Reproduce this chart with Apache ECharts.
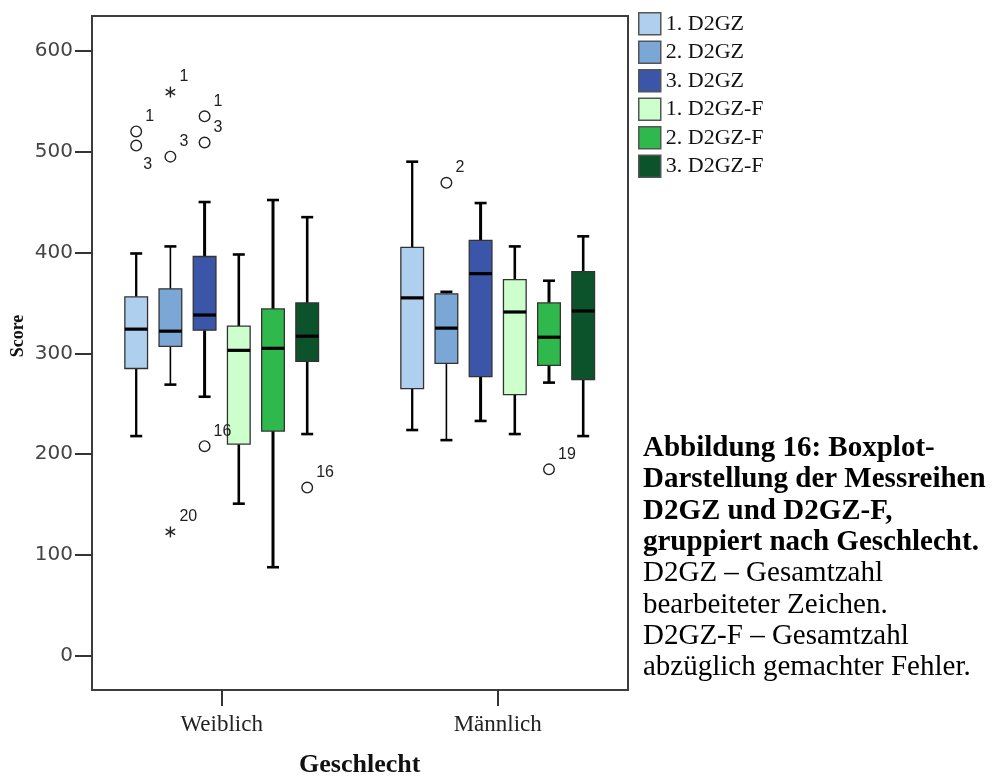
<!DOCTYPE html>
<html><head><meta charset="utf-8">
<script src="https://cdn.jsdelivr.net/npm/echarts@6/dist/echarts.min.js"></script>
<style>html,body{margin:0;padding:0;background:#fff}#c{width:995px;height:778px}</style>
</head><body><div id="c"></div>
<script>
// ---------------- data ----------------
const categories = ['Weiblich', 'Männlich'];
const seriesNames = ['1. D2GZ', '2. D2GZ', '3. D2GZ', '1. D2GZ-F', '2. D2GZ-F', '3. D2GZ-F'];
// [min, Q1, median, Q3, max] for Weiblich, Männlich
const d2gz1  = [[218, 285, 324, 356, 399], [224, 265, 355, 405, 490]];
const d2gz2  = [[269, 307, 322, 364, 406], [214, 290, 325, 359, 361]];
const d2gz3  = [[257, 323, 338, 396, 450], [233, 277, 379, 412, 449]];
const d2gzF1 = [[151, 210, 303, 327, 398], [220, 259, 341, 373, 406]];
const d2gzF2 = [[88, 223, 305, 344, 452], [271, 288, 316, 350, 372]];
const d2gzF3 = [[220, 292, 317, 350, 435], [218, 274, 342, 381, 416]];
const boxData = [d2gz1, d2gz2, d2gz3, d2gzF1, d2gzF2, d2gzF3];
// outliers
const outlierGroup  = [0, 0, 0, 0, 0, 0, 0, 0, 0, 1, 1];
const outlierSeries = [0, 0, 1, 1, 1, 2, 2, 2, 5, 1, 4];
const outlierValues = [520, 506, 559, 495, 123, 535, 509, 208, 167, 469, 185];
const outlierLabels = ['1', '3', '1', '3', '20', '1', '3', '16', '16', '2', '19'];
const outlierKinds  = ['o', 'o', '*', 'o', '*', 'o', 'o', 'o', 'o', 'o', 'o'];
const yTickStep = 100;

// ---------------- style ----------------
const colors = ['#aed0ee', '#7aa7d6', '#3b55a8', '#ccffcc', '#2fb84b', '#0c532c'];
const whiskerWidth = [2.3, 1.6, 3, 2.6, 3, 2.6];
const SPACING = 34.2 / 276;   // box spacing as fraction of band width
const BOX_W = 22.7 / 276;
const CAP_W = 12 / 276;
const labelBelow = outlierLabels.map((_, i) => i === 1);

function boxRender(k) {
  return function (params, api) {
    const g = api.value(0);
    const band = api.size([1, 0])[0];
    const cx = api.coord([g, 0])[0] + (k - 2.5) * SPACING * band;
    const bw = BOX_W * band, cw = CAP_W * band;
    const yy = i => api.coord([g, api.value(i)])[1];
    const yMin = yy(1), yQ1 = yy(2), yMed = yy(3), yQ3 = yy(4), yMax = yy(5);
    const lw = whiskerWidth[k];
    const ln = (x1, y1, x2, y2, w) => ({type: 'line', shape: {x1, y1, x2, y2}, style: {stroke: '#000', lineWidth: w}});
    return {
      type: 'group',
      children: [
        ln(cx, yMax, cx, yQ3, lw),
        ln(cx, yQ1, cx, yMin, lw),
        ln(cx - cw / 2, yMax, cx + cw / 2, yMax, 2.6),
        ln(cx - cw / 2, yMin, cx + cw / 2, yMin, 2.6),
        {type: 'rect', shape: {x: cx - bw / 2, y: yQ3, width: bw, height: yQ1 - yQ3},
         style: {fill: colors[k], stroke: '#333', lineWidth: 1.3}},
        ln(cx - bw / 2, yMed, cx + bw / 2, yMed, 3.2)
      ]
    };
  };
}

function outlierRender(params, api) {
  const i = params.dataIndex;
  const k = outlierSeries[i];
  const g = api.value(0);
  const band = api.size([1, 0])[0];
  const p = api.coord([g, api.value(1)]);
  const cx = p[0] + (k - 2.5) * SPACING * band, cy = p[1];
  const children = [];
  if (outlierKinds[i] === 'o') {
    children.push({type: 'circle', shape: {cx, cy, r: 5.3}, style: {fill: 'none', stroke: '#222', lineWidth: 1.4}});
  } else {
    const r = 5.5;
    [90, 30, 150].forEach(a => {
      const dx = r * Math.cos(a * Math.PI / 180), dy = r * Math.sin(a * Math.PI / 180);
      children.push({type: 'line', shape: {x1: cx - dx, y1: cy - dy, x2: cx + dx, y2: cy + dy}, style: {stroke: '#222', lineWidth: 1.4}});
    });
  }
  children.push({type: 'text', x: cx + (labelBelow[i] ? 7 : 9), y: cy + (labelBelow[i] ? 19 : -15),
    style: {text: outlierLabels[i], fontFamily: 'Liberation Sans', fontSize: 16, fill: '#222',
            align: 'left', verticalAlign: 'middle'}});
  return {type: 'group', children};
}

const series = boxData.map((arr, k) => ({
  name: seriesNames[k],
  type: 'custom',
  xAxisIndex: 0, yAxisIndex: 0,
  itemStyle: {color: colors[k]},
  renderItem: boxRender(k),
  encode: {x: 0, y: [1, 2, 3, 4, 5]},
  data: arr.map((d, g) => [g].concat(d))
}));
series.push({
  name: 'outliers',
  type: 'custom',
  xAxisIndex: 0, yAxisIndex: 0,
  renderItem: outlierRender,
  encode: {x: 0, y: 1},
  data: outlierValues.map((v, i) => [outlierGroup[i], v])
});

const chart = echarts.init(document.getElementById('c'), null, {renderer: 'canvas'});
chart.setOption({
  animation: false,
  backgroundColor: '#fff',
  grid: [
    {left: 83.7, width: 552, top: 16, height: 674, show: false, containLabel: false, outerBoundsMode: 'none'},
    {left: 92, width: 536, top: 50.7, height: 605.3, show: false, containLabel: false, outerBoundsMode: 'none'},
    {left: 92, width: 536, top: 16, height: 674, show: true, borderColor: '#3c3c3c', borderWidth: 2,
     backgroundColor: 'transparent', containLabel: false, outerBoundsMode: 'none'}
  ],
  xAxis: [
    {gridIndex: 0, type: 'category', data: categories, position: 'bottom',
     axisLine: {show: false, onZero: false},
     axisTick: {show: true, alignWithLabel: true, length: 16, lineStyle: {color: '#333', width: 2}},
     axisLabel: {margin: 23, fontFamily: 'Liberation Serif', fontSize: 23, color: '#222'},
     splitLine: {show: false},
     name: 'Geschlecht', nameLocation: 'middle', nameGap: 62,
     nameTextStyle: {fontFamily: 'Liberation Serif', fontWeight: 'bold', fontSize: 26, color: '#111'}},
    {gridIndex: 1, type: 'value', show: false},
    {gridIndex: 2, type: 'value', show: false}
  ],
  yAxis: [
    {gridIndex: 0, type: 'value', min: -33.7, max: 634.4, show: false},
    {gridIndex: 1, type: 'value', min: 0, max: 600, interval: yTickStep,
     axisLine: {show: false},
     axisTick: {show: true, length: 17, lineStyle: {color: '#333', width: 2}},
     axisLabel: {margin: 19, fontFamily: 'DejaVu Sans', fontSize: 20, color: '#444'},
     splitLine: {show: false}},
    {gridIndex: 2, type: 'value', show: false}
  ],
  legend: {
    data: seriesNames, orient: 'vertical', left: 633, top: 7,
    icon: 'rect', itemWidth: 22, itemHeight: 22, itemGap: 5, selectedMode: false,
    itemStyle: {borderColor: '#555', borderWidth: 1.5},
    textStyle: {fontFamily: 'Liberation Serif', fontSize: 22, color: '#111'}
  },
  graphic: [
    {type: 'text', x: 18, y: 336, rotation: Math.PI / 2,
     style: {text: 'Score', fontFamily: 'Liberation Serif', fontWeight: 'bold', fontSize: 18, fill: '#111',
             align: 'center', verticalAlign: 'middle'}},
    {type: 'text', left: 643, top: 433,
     style: {text: 'Abbildung 16: Boxplot-\nDarstellung der Messreihen\nD2GZ und D2GZ-F,\ngruppiert nach Geschlecht.',
             fontFamily: 'Liberation Serif', fontWeight: 'bold', fontSize: 29, lineHeight: 31.3, fill: '#000'}},
    {type: 'text', left: 643, top: 433 + 4 * 31.3,
     style: {text: 'D2GZ – Gesamtzahl\nbearbeiteter Zeichen.\nD2GZ-F – Gesamtzahl\nabzüglich gemachter Fehler.',
             fontFamily: 'Liberation Serif', fontSize: 29, lineHeight: 31.3, fill: '#000'}}
  ],
  series: series
});
</script>
</body></html>
